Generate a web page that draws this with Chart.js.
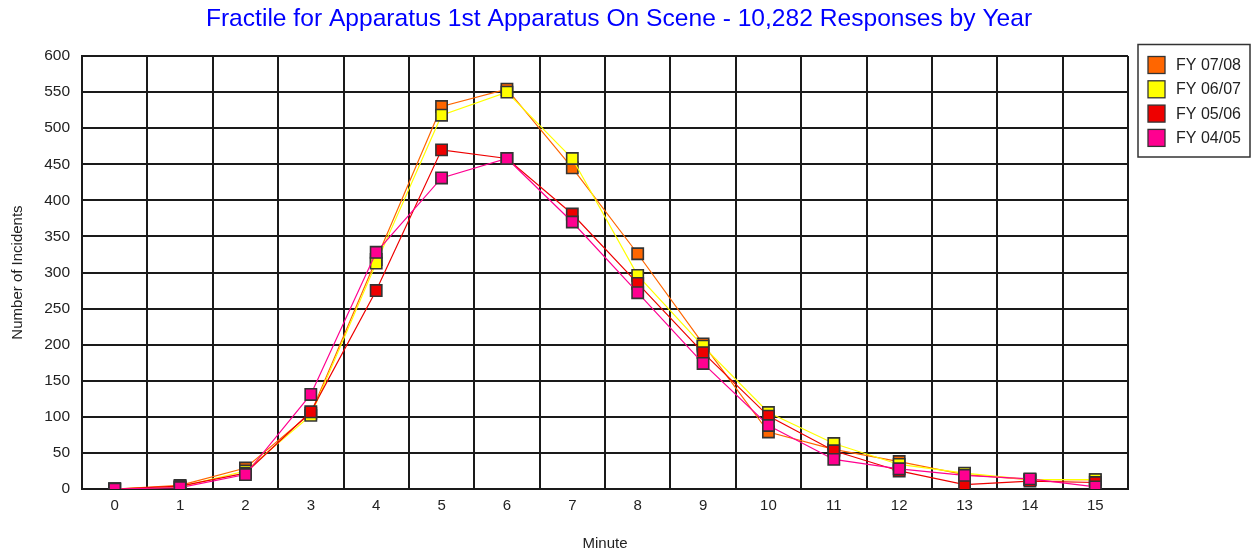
<!DOCTYPE html>
<html>
<head>
<meta charset="utf-8">
<script src="https://cdn.jsdelivr.net/npm/chart.js@4.4.1/dist/chart.umd.min.js"></script>
<style>
html,body{margin:0;padding:0;background:#fff;}
#wrap{width:1252px;height:555px;}
</style>
</head>
<body>
<div id="wrap"><canvas id="c" width="1252" height="555"></canvas></div>
<script>
const minutes = ['0','1','2','3','4','5','6','7','8','9','10','11','12','13','14','15'];
const fy0708 = [0,5,29,105,318,530,554,445,326,201,79,55,38,20,13,13];
const fy0607 = [0,3,25,102,313,518,550,458,296,198,106,63,34,22,13,13];
const fy0506 = [0,4,22,107,275,470,458,381,285,189,101,53,25,6,11,9];
const fy0405 = [0,2,20,131,328,431,458,370,272,174,88,41,28,19,14,3];
const seriesNames = ['FY 07/08','FY 06/07','FY 05/06','FY 04/05'];
const seriesColors = ['#FF6600','#FFFF00','#EE0000','#FF0090'];
const yTicks = [0,50,100,150,200,250,300,350,400,450,500,550,600];

const FONT = "'Liberation Sans', Arial, sans-serif";
const seriesData = [fy0708, fy0607, fy0506, fy0405];

const datasets = seriesData.map((d, i) => ({
  label: seriesNames[i],
  data: d,
  borderColor: seriesColors[i],
  backgroundColor: seriesColors[i],
  borderWidth: 1.2,
  pointStyle: 'rect',
  pointRadius: 8,
  pointHoverRadius: 8,
  pointBorderColor: '#333',
  pointBorderWidth: 1.6,
  pointBackgroundColor: seriesColors[i],
  tension: 0,
  order: 4 - i
}));

const legendBox = {
  id: 'legendBox',
  afterDraw(chart) {
    const ctx = chart.ctx;
    ctx.save();
    ctx.strokeStyle = '#333';
    ctx.lineWidth = 1.5;
    ctx.strokeRect(1138, 44.5, 112, 112.5);
    ctx.font = '16px ' + FONT;
    ctx.textBaseline = 'middle';
    ctx.textAlign = 'left';
    for (let i = 0; i < seriesNames.length; i++) {
      const cy = 64.5 + i * 24.3;
      ctx.fillStyle = seriesColors[i];
      ctx.fillRect(1148, cy - 8, 17, 17);
      ctx.strokeStyle = '#333';
      ctx.lineWidth = 1.3;
      ctx.strokeRect(1148, cy - 8, 17, 17);
      ctx.fillStyle = '#222';
      ctx.fillText(seriesNames[i], 1176, cy + 1);
    }
    ctx.restore();
  }
};

new Chart(document.getElementById('c'), {
  type: 'line',
  data: { labels: minutes, datasets },
  plugins: [legendBox],
  options: {
    responsive: false,
    animation: false,
    events: [],
    layout: { padding: { left: 0, right: 14, top: 0, bottom: 0 } },
    plugins: {
      legend: { display: false },
      tooltip: { enabled: false },
      title: {
        display: true,
        text: 'Fractile for Apparatus 1st Apparatus On Scene - 10,282 Responses by Year',
        color: '#0000FF',
        font: { family: FONT, size: 24.6, weight: 'normal', lineHeight: 1.2 },
        padding: { top: 4, bottom: 22.5 }
      }
    },
    scales: {
      x: {
        type: 'category',
        offset: true,
        afterFit(s) { s.height = 66; },
        grid: { color: '#1a1a1a', lineWidth: 2, offset: true, drawTicks: false },
        border: { color: '#1a1a1a', width: 2 },
        ticks: { color: '#222', font: { family: FONT, size: 15 }, padding: 8, maxRotation: 0, autoSkip: false },
        title: { display: true, text: 'Minute', color: '#222', font: { family: FONT, size: 15 }, padding: { top: 0, bottom: 2 } }
      },
      y: {
        min: 0, max: 600,
        afterFit(s) { s.width = 82; },
        afterBuildTicks(s) { s.ticks = yTicks.map(v => ({ value: v })); },
        grid: { color: '#1a1a1a', lineWidth: 2, drawTicks: false },
        border: { color: '#1a1a1a', width: 2 },
        ticks: { color: '#222', font: { family: FONT, size: 15.5 }, padding: 12 },
        title: { display: true, text: 'Number of Incidents', color: '#222', font: { family: FONT, size: 15 }, padding: { top: 9 } }
      },
      yr: {
        position: 'right',
        display: true,
        afterFit(s) { s.width = 110; },
        grid: { display: false, drawOnChartArea: false },
        border: { display: false },
        ticks: { display: false }
      }
    }
  }
});
</script>
</body>
</html>
